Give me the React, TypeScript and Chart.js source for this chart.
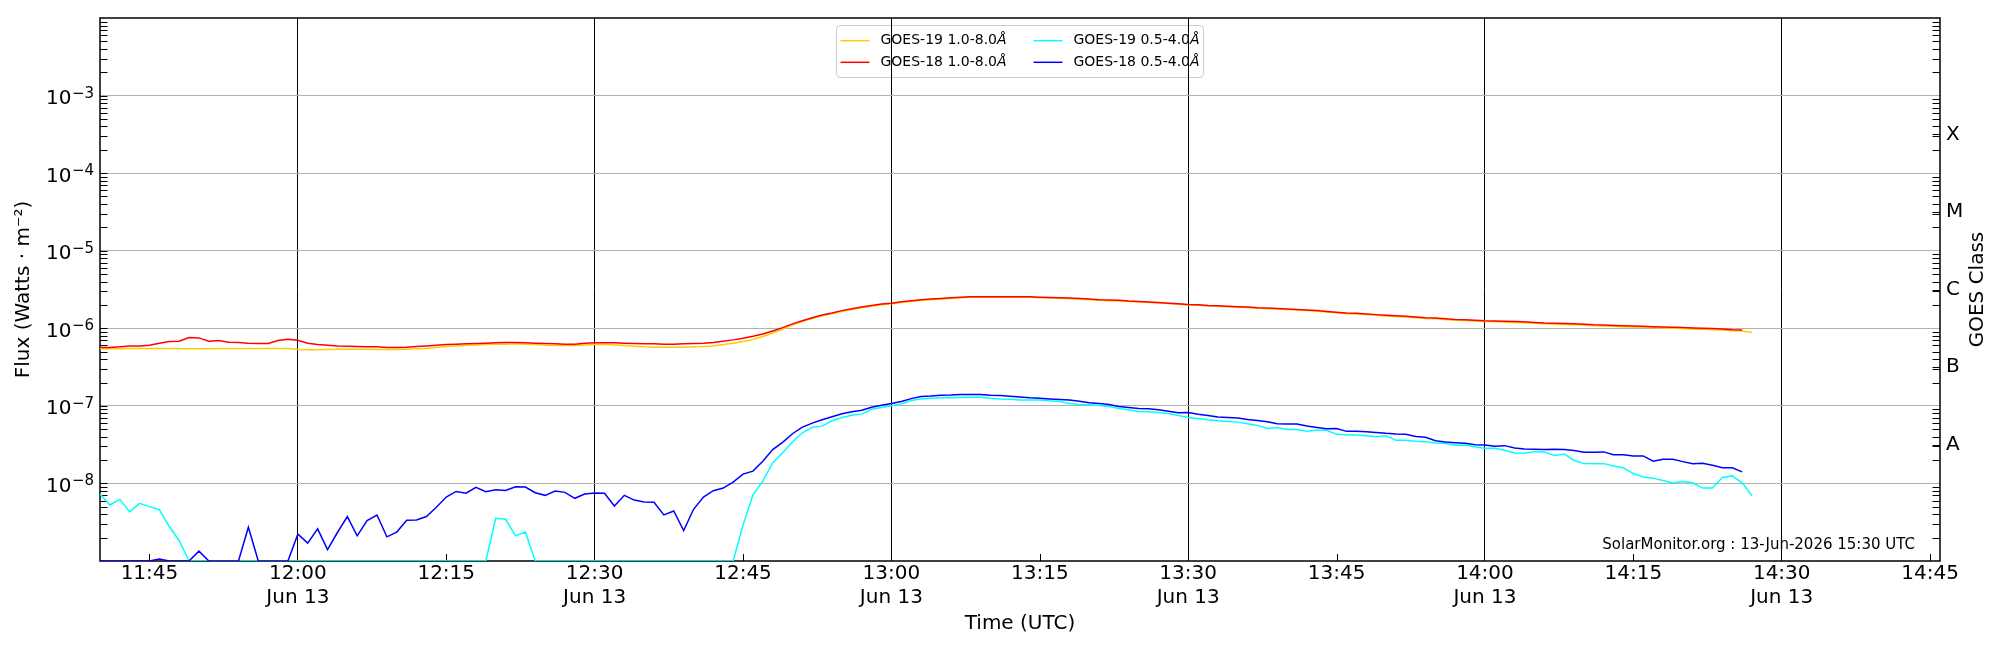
import { useEffect, useRef } from 'react';
import { Chart, registerables } from 'chart.js';

Chart.register(...registerables);

// GOES XRS 1-minute fluxes, first sample 11:40 UTC on 13 Jun
const startMinute = 11 * 60 + 40;

const goes19Long = [
  5.43e-7, 5.43e-7, 5.43e-7, 5.49e-7, 5.49e-7, 5.49e-7, 5.49e-7, 5.49e-7, 5.43e-7, 5.43e-7,
  5.43e-7, 5.43e-7, 5.49e-7, 5.49e-7, 5.49e-7, 5.49e-7, 5.49e-7, 5.49e-7, 5.49e-7, 5.49e-7,
  5.33e-7, 5.27e-7, 5.27e-7, 5.33e-7, 5.38e-7, 5.38e-7, 5.38e-7, 5.38e-7, 5.33e-7, 5.33e-7,
  5.33e-7, 5.38e-7, 5.43e-7, 5.49e-7, 5.65e-7, 5.82e-7, 5.93e-7, 6.05e-7, 6.11e-7, 6.17e-7,
  6.24e-7, 6.24e-7, 6.30e-7, 6.24e-7, 6.17e-7, 6.05e-7, 6.00e-7, 6.00e-7, 6.00e-7, 6.11e-7,
  6.17e-7, 6.17e-7, 6.11e-7, 6.00e-7, 5.88e-7, 5.76e-7, 5.71e-7, 5.71e-7, 5.71e-7, 5.71e-7,
  5.76e-7, 5.82e-7, 5.93e-7, 6.17e-7, 6.42e-7, 6.75e-7, 7.16e-7, 7.82e-7, 8.71e-7, 9.80e-7,
  1.10e-6, 1.23e-6, 1.34e-6, 1.45e-6, 1.54e-6, 1.65e-6, 1.75e-6, 1.84e-6, 1.93e-6, 2.01e-6,
  2.07e-6, 2.15e-6, 2.22e-6, 2.29e-6, 2.33e-6, 2.38e-6, 2.42e-6, 2.48e-6, 2.51e-6, 2.51e-6,
  2.51e-6, 2.51e-6, 2.51e-6, 2.51e-6, 2.51e-6, 2.48e-6, 2.46e-6, 2.43e-6, 2.41e-6, 2.38e-6,
  2.34e-6, 2.30e-6, 2.27e-6, 2.25e-6, 2.21e-6, 2.19e-6, 2.15e-6, 2.12e-6, 2.08e-6, 2.04e-6,
  2.00e-6, 1.98e-6, 1.94e-6, 1.92e-6, 1.90e-6, 1.87e-6, 1.85e-6, 1.81e-6, 1.79e-6, 1.77e-6,
  1.74e-6, 1.72e-6, 1.69e-6, 1.66e-6, 1.62e-6, 1.58e-6, 1.54e-6, 1.53e-6, 1.50e-6, 1.47e-6,
  1.44e-6, 1.42e-6, 1.40e-6, 1.37e-6, 1.34e-6, 1.33e-6, 1.30e-6, 1.27e-6, 1.26e-6, 1.24e-6,
  1.22e-6, 1.21e-6, 1.20e-6, 1.19e-6, 1.18e-6, 1.16e-6, 1.14e-6, 1.13e-6, 1.12e-6, 1.11e-6,
  1.10e-6, 1.08e-6, 1.07e-6, 1.06e-6, 1.05e-6, 1.04e-6, 1.03e-6, 1.02e-6, 1.01e-6, 1.00e-6,
  9.9e-7, 9.8e-7, 9.7e-7, 9.6e-7, 9.5e-7, 9.3e-7, 9.2e-7, 8.8e-7,
];

const goes18Long = [
  5.65e-7, 5.65e-7, 5.76e-7, 5.93e-7, 5.93e-7, 6.05e-7, 6.42e-7, 6.75e-7, 6.82e-7, 7.59e-7,
  7.52e-7, 6.82e-7, 6.95e-7, 6.62e-7, 6.55e-7, 6.42e-7, 6.36e-7, 6.36e-7, 6.95e-7, 7.23e-7,
  7.02e-7, 6.42e-7, 6.17e-7, 6.05e-7, 5.93e-7, 5.88e-7, 5.82e-7, 5.76e-7, 5.76e-7, 5.65e-7,
  5.65e-7, 5.71e-7, 5.82e-7, 5.93e-7, 6.05e-7, 6.17e-7, 6.24e-7, 6.30e-7, 6.36e-7, 6.42e-7,
  6.49e-7, 6.55e-7, 6.55e-7, 6.49e-7, 6.42e-7, 6.36e-7, 6.30e-7, 6.24e-7, 6.24e-7, 6.42e-7,
  6.49e-7, 6.49e-7, 6.49e-7, 6.42e-7, 6.36e-7, 6.30e-7, 6.30e-7, 6.24e-7, 6.24e-7, 6.30e-7,
  6.36e-7, 6.42e-7, 6.55e-7, 6.82e-7, 7.09e-7, 7.44e-7, 7.90e-7, 8.46e-7, 9.24e-7, 1.02e-6,
  1.14e-6, 1.25e-6, 1.37e-6, 1.48e-6, 1.57e-6, 1.69e-6, 1.79e-6, 1.88e-6, 1.97e-6, 2.05e-6,
  2.11e-6, 2.20e-6, 2.26e-6, 2.33e-6, 2.38e-6, 2.42e-6, 2.47e-6, 2.52e-6, 2.55e-6, 2.55e-6,
  2.55e-6, 2.55e-6, 2.55e-6, 2.55e-6, 2.55e-6, 2.52e-6, 2.50e-6, 2.47e-6, 2.45e-6, 2.42e-6,
  2.38e-6, 2.33e-6, 2.31e-6, 2.29e-6, 2.24e-6, 2.22e-6, 2.18e-6, 2.15e-6, 2.11e-6, 2.07e-6,
  2.03e-6, 2.01e-6, 1.97e-6, 1.95e-6, 1.93e-6, 1.90e-6, 1.88e-6, 1.84e-6, 1.82e-6, 1.80e-6,
  1.77e-6, 1.75e-6, 1.72e-6, 1.69e-6, 1.65e-6, 1.61e-6, 1.57e-6, 1.56e-6, 1.53e-6, 1.50e-6,
  1.47e-6, 1.45e-6, 1.43e-6, 1.40e-6, 1.37e-6, 1.36e-6, 1.33e-6, 1.30e-6, 1.29e-6, 1.27e-6,
  1.25e-6, 1.24e-6, 1.23e-6, 1.22e-6, 1.21e-6, 1.19e-6, 1.17e-6, 1.16e-6, 1.15e-6, 1.14e-6,
  1.13e-6, 1.11e-6, 1.10e-6, 1.09e-6, 1.08e-6, 1.07e-6, 1.06e-6, 1.05e-6, 1.04e-6, 1.03e-6,
  1.02e-6, 1.01e-6, 1.00e-6, 9.90e-7, 9.80e-7, 9.61e-7, 9.52e-7,
];

const goes19Short = [
  7.30e-9, 5.27e-9, 6.23e-9, 4.29e-9, 5.54e-9, 5.02e-9, 4.59e-9, 2.78e-9, 1.84e-9, 1e-9,
  1e-9, 1e-9, 1e-9, 1e-9, 1e-9, 1e-9, 1e-9, 1e-9, 1e-9, 1e-9,
  1e-9, 1e-9, 1e-9, 1e-9, 1e-9, 1e-9, 1e-9, 1e-9, 1e-9, 1e-9,
  1e-9, 1e-9, 1e-9, 1e-9, 1e-9, 1e-9, 1e-9, 1e-9, 1e-9, 1e-9,
  3.56e-9, 3.45e-9, 2.11e-9, 2.36e-9, 1e-9, 1e-9, 1e-9, 1e-9, 1e-9, 1e-9,
  1e-9, 1e-9, 1e-9, 1e-9, 1e-9, 1e-9, 1e-9, 1e-9, 1e-9, 1e-9,
  1e-9, 1e-9, 1e-9, 1e-9, 1e-9, 2.90e-9, 7.08e-9, 1.07e-8, 1.84e-8, 2.49e-8,
  3.42e-8, 4.50e-8, 5.27e-8, 5.48e-8, 6.42e-8, 7.08e-8, 7.59e-8, 7.82e-8, 9.06e-8, 9.53e-8,
  1.00e-7, 1.06e-7, 1.17e-7, 1.23e-7, 1.25e-7, 1.27e-7, 1.27e-7, 1.28e-7, 1.29e-7, 1.29e-7,
  1.25e-7, 1.23e-7, 1.22e-7, 1.19e-7, 1.19e-7, 1.19e-7, 1.16e-7, 1.14e-7, 1.07e-7, 1.04e-7,
  1.03e-7, 1.01e-7, 9.80e-8, 9.24e-8, 8.88e-8, 8.46e-8, 8.38e-8, 8.21e-8, 7.97e-8, 7.52e-8,
  7.09e-8, 6.88e-8, 6.62e-8, 6.42e-8, 6.30e-8, 6.17e-8, 5.88e-8, 5.60e-8, 5.12e-8, 5.27e-8,
  4.97e-8, 4.97e-8, 4.69e-8, 4.83e-8, 4.83e-8, 4.29e-8, 4.25e-8, 4.20e-8, 4.12e-8, 4.01e-8,
  4.12e-8, 3.59e-8, 3.59e-8, 3.49e-8, 3.45e-8, 3.32e-8, 3.26e-8, 3.10e-8, 3.13e-8, 2.95e-8,
  2.84e-8, 2.84e-8, 2.68e-8, 2.47e-8, 2.45e-8, 2.57e-8, 2.55e-8, 2.29e-8, 2.40e-8, 1.99e-8,
  1.80e-8, 1.79e-8, 1.80e-8, 1.68e-8, 1.59e-8, 1.34e-8, 1.21e-8, 1.17e-8, 1.09e-8, 1.01e-8,
  1.06e-8, 1.02e-8, 8.71e-9, 8.71e-9, 1.19e-8, 1.25e-8, 1.02e-8, 6.95e-9,
];

const goes18Short = [
  1e-9, 1e-9, 1e-9, 1e-9, 1e-9, 1e-9, 1.06e-9, 1e-9, 1e-9, 1e-9,
  1.34e-9, 1e-9, 1e-9, 1e-9, 1e-9, 2.73e-9, 1e-9, 1e-9, 1e-9, 1e-9,
  2.22e-9, 1.70e-9, 2.60e-9, 1.40e-9, 2.33e-9, 3.74e-9, 2.11e-9, 3.32e-9, 3.92e-9, 2.05e-9,
  2.36e-9, 3.35e-9, 3.37e-9, 3.74e-9, 4.92e-9, 6.68e-9, 7.89e-9, 7.50e-9, 8.89e-9, 7.80e-9,
  8.30e-9, 8.10e-9, 9.06e-9, 9.00e-9, 7.58e-9, 7.02e-9, 7.97e-9, 7.67e-9, 6.43e-9, 7.30e-9,
  7.50e-9, 7.45e-9, 5.12e-9, 7.02e-9, 6.10e-9, 5.76e-9, 5.72e-9, 3.93e-9, 4.42e-9, 2.47e-9,
  4.64e-9, 6.68e-9, 8.05e-9, 8.71e-9, 1.04e-8, 1.32e-8, 1.44e-8, 1.93e-8, 2.73e-8, 3.39e-8,
  4.37e-8, 5.33e-8, 5.99e-8, 6.62e-8, 7.23e-8, 7.89e-8, 8.37e-8, 8.79e-8, 9.61e-8, 1.02e-7,
  1.07e-7, 1.14e-7, 1.24e-7, 1.32e-7, 1.34e-7, 1.37e-7, 1.38e-7, 1.40e-7, 1.40e-7, 1.40e-7,
  1.37e-7, 1.36e-7, 1.33e-7, 1.30e-7, 1.27e-7, 1.25e-7, 1.23e-7, 1.21e-7, 1.19e-7, 1.15e-7,
  1.10e-7, 1.07e-7, 1.04e-7, 9.80e-8, 9.52e-8, 9.24e-8, 9.15e-8, 8.88e-8, 8.54e-8, 8.13e-8,
  8.21e-8, 7.82e-8, 7.52e-8, 7.16e-8, 7.09e-8, 6.95e-8, 6.68e-8, 6.49e-8, 6.24e-8, 5.88e-8,
  5.82e-8, 5.82e-8, 5.49e-8, 5.27e-8, 5.07e-8, 5.12e-8, 4.69e-8, 4.69e-8, 4.64e-8, 4.55e-8,
  4.42e-8, 4.33e-8, 4.29e-8, 4.04e-8, 3.93e-8, 3.56e-8, 3.42e-8, 3.35e-8, 3.29e-8, 3.16e-8,
  3.13e-8, 3.01e-8, 3.07e-8, 2.87e-8, 2.78e-8, 2.75e-8, 2.73e-8, 2.75e-8, 2.73e-8, 2.65e-8,
  2.52e-8, 2.52e-8, 2.55e-8, 2.35e-8, 2.35e-8, 2.26e-8, 2.26e-8, 1.93e-8, 2.05e-8, 2.05e-8,
  1.91e-8, 1.79e-8, 1.82e-8, 1.72e-8, 1.59e-8, 1.59e-8, 1.41e-8,
];

// axis ticks (minutes of day / W m^-2)
const timeTicks = [705, 720, 735, 750, 765, 780, 795, 810, 825, 840, 855, 870, 885];
const timeTickLabels = ['11:45', '12:00', '12:15', '12:30', '12:45', '13:00', '13:15', '13:30', '13:45', '14:00', '14:15', '14:30', '14:45'];
const dateTickLabel = 'Jun 13';
const fluxTicks = [1e-8, 1e-7, 1e-6, 1e-5, 1e-4, 1e-3];
const fluxTickExponents = ['\u22128', '\u22127', '\u22126', '\u22125', '\u22124', '\u22123'];
const classTicks = [10 ** -7.5, 10 ** -6.5, 10 ** -5.5, 10 ** -4.5, 10 ** -3.5];
const classLabels = ['A', 'B', 'C', 'M', 'X'];
const decades = [-9, -8, -7, -6, -5, -4, -3];

const FONT = "'DejaVu Sans', sans-serif";
const stamp = 'SolarMonitor.org : 13-Jun-2026 15:30 UTC';

const isHalfHour = (m?: number) => m !== undefined && m % 30 === 0;

const toPoints = (vals: number[]) => vals.map((v, i) => ({ x: startMinute + i, y: v }));

function drawLegend(chart: any) {
  const { ctx, chartArea: a } = chart;
  const w = 367;
  const h = 52;
  const bx = (a.left + a.right) / 2 - w / 2;
  const by = a.top + 7.5;
  ctx.save();
  ctx.fillStyle = 'rgba(255,255,255,0.8)';
  ctx.strokeStyle = '#cccccc';
  ctx.lineWidth = 1;
  ctx.beginPath();
  ctx.roundRect(bx, by, w, h, 4);
  ctx.fill();
  ctx.stroke();
  chart.data.datasets.forEach((ds: any, k: number) => {
    const col = Math.floor(k / 2);
    const row = k % 2;
    const x0 = bx + 4 + col * 193;
    const y0 = by + 15.2 + row * 21.6;
    ctx.strokeStyle = ds.borderColor;
    ctx.lineWidth = 1.5;
    ctx.beginPath();
    ctx.moveTo(x0, y0);
    ctx.lineTo(x0 + 29, y0);
    ctx.stroke();
    const main = ds.label.slice(0, -1);
    const unit = ds.label.slice(-1);
    ctx.fillStyle = '#000';
    ctx.textBaseline = 'middle';
    ctx.textAlign = 'left';
    ctx.font = `14px ${FONT}`;
    ctx.fillText(main, x0 + 40, y0);
    const mw = ctx.measureText(main).width;
    ctx.font = `italic 14px ${FONT}`;
    ctx.fillText(unit, x0 + 40 + mw, y0);
  });
  ctx.restore();
}

// power-of-ten labels with a real superscript, like matplotlib's mathtext
function drawFluxLabels(chart: any) {
  const { ctx, chartArea: a, scales } = chart;
  ctx.save();
  ctx.fillStyle = '#000';
  ctx.textAlign = 'left';
  ctx.textBaseline = 'alphabetic';
  fluxTicks.forEach((v, i) => {
    const py = scales.y.getPixelForValue(v);
    const exp = fluxTickExponents[i];
    ctx.font = `15px ${FONT}`;
    const ew = ctx.measureText(exp).width;
    ctx.font = `20px ${FONT}`;
    const bw = ctx.measureText('10').width;
    const right = a.left - 6;
    ctx.fillText('10', right - ew - bw - 0.5, py + 8.5);
    ctx.font = `15px ${FONT}`;
    ctx.fillText(exp, right - ew, py + 2);
  });
  ctx.restore();
}

const goesDecor = {
  id: 'goesDecor',
  beforeDraw(chart: any) {
    drawLegend(chart);
  },
  beforeDatasetsDraw(chart: any) {
    const { ctx, chartArea: a, scales } = chart;
    const y = scales.y;
    const x = scales.x;
    ctx.save();
    ctx.strokeStyle = '#000';
    ctx.lineWidth = 1;
    ctx.beginPath();
    for (const n of decades) {
      for (let k = 1; k <= 9; k++) {
        const py = Math.round(y.getPixelForValue(k * 10 ** n)) + 0.5;
        if (py < a.top || py > a.bottom) continue;
        ctx.moveTo(a.left, py);
        ctx.lineTo(a.left + 7.5, py);
        if (k > 1) {
          ctx.moveTo(a.right, py);
          ctx.lineTo(a.right - 7.5, py);
        }
      }
    }
    for (const v of classTicks) {
      const py = Math.round(scales.y2.getPixelForValue(v)) + 0.5;
      ctx.moveTo(a.right, py);
      ctx.lineTo(a.right - 7.5, py);
    }
    for (const m of timeTicks) {
      if (isHalfHour(m)) continue;
      const px = Math.round(x.getPixelForValue(m)) + 0.5;
      ctx.moveTo(px, a.bottom);
      ctx.lineTo(px, a.bottom - 7);
    }
    ctx.stroke();
    ctx.lineWidth = 1.5;
    ctx.strokeRect(a.left, a.top, a.right - a.left, a.bottom - a.top);
    ctx.restore();
  },
  afterDraw(chart: any) {
    const { ctx, chartArea: a } = chart;
    drawFluxLabels(chart);
    ctx.save();
    ctx.fillStyle = '#000';
    ctx.font = `15px ${FONT}`;
    ctx.textAlign = 'right';
    ctx.textBaseline = 'alphabetic';
    ctx.fillText(stamp, a.right - 25, a.bottom - 12);
    ctx.translate(a.right + 43, (a.top + a.bottom) / 2);
    ctx.rotate(-Math.PI / 2);
    ctx.textAlign = 'center';
    ctx.font = `20px ${FONT}`;
    ctx.fillText('GOES Class', 0, 0);
    ctx.restore();
  },
};

export default function App() {
  const canvasRef = useRef<HTMLCanvasElement>(null);

  useEffect(() => {
    document.body.style.margin = '0';
    if (!canvasRef.current) return;
    Chart.defaults.font.family = FONT;
    Chart.defaults.color = '#000';

    const chart = new Chart(canvasRef.current, {
      type: 'line',
      data: {
        datasets: [
          { label: 'GOES-19 1.0-8.0\u00C5', data: toPoints(goes19Long), borderColor: '#ffcc00', order: 4 },
          { label: 'GOES-18 1.0-8.0\u00C5', data: toPoints(goes18Long), borderColor: '#ff0000', order: 2 },
          { label: 'GOES-19 0.5-4.0\u00C5', data: toPoints(goes19Short), borderColor: '#00ffff', order: 3 },
          { label: 'GOES-18 0.5-4.0\u00C5', data: toPoints(goes18Short), borderColor: '#0000ff', order: 1 },
        ],
      },
      options: {
        animation: false,
        responsive: true,
        maintainAspectRatio: false,
        devicePixelRatio: 1,
        events: [],
        layout: { padding: { top: 15, left: 0, right: 0, bottom: 0 } },
        elements: {
          point: { radius: 0 },
          line: { borderWidth: 1.5, tension: 0, fill: false },
        },
        plugins: {
          legend: { display: false },
          tooltip: { enabled: false },
        },
        scales: {
          x: {
            type: 'linear',
            min: startMinute,
            max: startMinute + 186,
            afterBuildTicks: (s: any) => {
              s.ticks = timeTicks.map((v) => ({ value: v }));
            },
            afterFit: (s: any) => {
              s.height = 89;
            },
            ticks: {
              autoSkip: false,
              maxRotation: 0,
              minRotation: 0,
              padding: 1,
              font: { size: 20 },
              color: '#000',
              callback: (v: any, i: number) =>
                isHalfHour(Number(v)) ? [timeTickLabels[i], dateTickLabel] : timeTickLabels[i],
            },
            grid: {
              drawTicks: false,
              lineWidth: 1,
              color: (c: any) => (isHalfHour(c.tick?.value) ? '#000000' : 'rgba(0,0,0,0)'),
            },
            border: { display: false },
            title: {
              display: true,
              text: 'Time (UTC)',
              font: { size: 20 },
              color: '#000',
              padding: { top: 0, bottom: 14 },
            },
          },
          y: {
            type: 'logarithmic',
            position: 'left',
            min: 1e-9,
            max: 1e-2,
            afterBuildTicks: (s: any) => {
              s.ticks = fluxTicks.map((v) => ({ value: v }));
            },
            afterFit: (s: any) => {
              s.width = 100;
            },
            ticks: { display: false, autoSkip: false },
            grid: { drawTicks: false, color: '#b0b0b0', lineWidth: 1 },
            border: { display: false },
            title: {
              display: true,
              text: 'Flux (Watts \u00B7 m\u207B\u00B2)',
              font: { size: 20 },
              color: '#000',
              padding: { top: 12, bottom: 0 },
            },
          },
          y2: {
            type: 'logarithmic',
            position: 'right',
            min: 1e-9,
            max: 1e-2,
            afterBuildTicks: (s: any) => {
              s.ticks = classTicks.map((v) => ({ value: v }));
            },
            afterFit: (s: any) => {
              s.width = 60;
            },
            ticks: {
              autoSkip: false,
              padding: 6,
              font: { size: 20 },
              color: '#000',
              callback: (_v: any, i: number) => classLabels[i],
            },
            grid: { display: false, drawTicks: false },
            border: { display: false },
          },
        },
      },
      plugins: [goesDecor],
    });

    return () => {
      chart.destroy();
    };
  }, []);

  return (
    <div style={{ position: 'relative', width: 2000, height: 650, background: '#ffffff' }}>
      <canvas ref={canvasRef}></canvas>
    </div>
  );
}
